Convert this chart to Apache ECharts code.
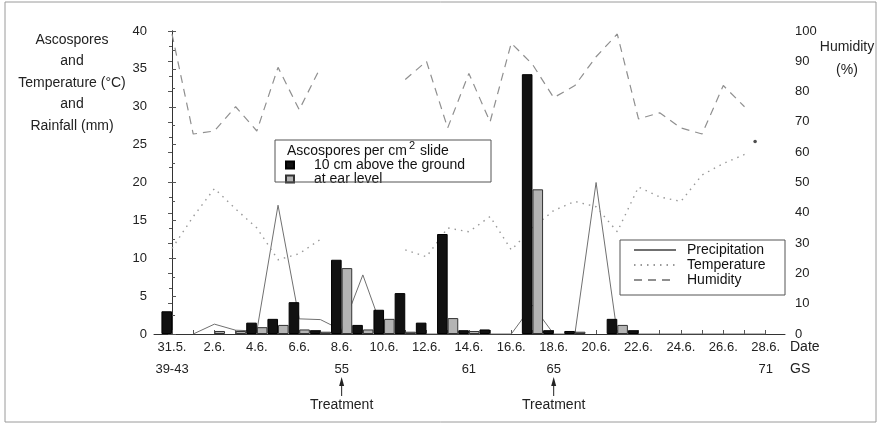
<!DOCTYPE html>
<html>
<head>
<meta charset="utf-8">
<script src="https://cdn.jsdelivr.net/npm/echarts@6/dist/echarts.min.js"></script>
<style>
  html, body { margin: 0; padding: 0; background: #fff; }
  #chart { width: 880px; height: 426px; }
</style>
</head>
<body>
<div id="chart"></div>
<script>
// one entry per day, 31.5. .. 28.6.
const dates = ["31.5.", "1.6.", "2.6.", "3.6.", "4.6.", "5.6.", "6.6.", "7.6.", "8.6.", "9.6.",
  "10.6.", "11.6.", "12.6.", "13.6.", "14.6.", "15.6.", "16.6.", "17.6.", "18.6.", "19.6.",
  "20.6.", "21.6.", "22.6.", "23.6.", "24.6.", "25.6.", "26.6.", "27.6.", "28.6."];
const labelDays = [0, 2, 4, 6, 8, 10, 12, 14, 16, 18, 20, 22, 24, 26, 28];
const gsDays = [0, 8, 14, 18, 28];
const gsLabels = ["39-43", "55", "61", "65", "71"];
const treatmentDays = [8, 18];

const aboveGround = [3.0, 0, 0, 0, 1.5, 2.0, 4.2, 0.5, 9.8, 1.2, 3.2, 5.4, 1.5, 13.2, 0.5, 0.6, 0, 34.3, 0.5, 0.4,
  0, 2.0, 0.5, 0, 0, 0, 0, 0, 0];
const earLevel = [0, 0, 0.4, 0.4, 0.9, 1.2, 0.6, 0.3, 8.7, 0.6, 2.0, 0.3, 0, 2.1, 0.4, 0, 0, 19.1, 0, 0.3,
  0, 1.2, 0, 0, 0, 0, 0, 0, 0];
const precipitation = [null, 0, 1.3, 0.5, 0.4, 17, 2.0, 1.9, 0.5, 7.8, 0, 0, 0, 0, 0, 0, 0, 3.8, 0, 0,
  20, 0, 0, 0, 0, 0, 0, 0, 0];
const temperature = [11.3, 15.5, 19.2, 16.5, 14, 9.8, 10.6, 12.5, null, null, null, 11.1, 10.2, 14, 13.5, 15.5,
  11.1, 14, 16.3, 17.5, 16.8, 13.5, 19.4, 18.1, 17.5, 21, 22.5, 23.7, null];
const humidity = [99, 66, 67, 75, 67, 88, 74, 88, null, null, null, 84, 90, 68, 86, 70, 96, 89, 78, 82,
  91.5, 99, 71, 73, 68, 66, 82, 75, null];
const tempDot = [[27.5, 25.4]];

const font = "Liberation Sans, Arial, sans-serif";
const xMin = -0.85;
const xMax = 28.91;

let chartDom = document.getElementById("chart");
let myChart = echarts.init(chartDom);

const toPairs = (arr) => arr.map((v, i) => [i, v === null ? "-" : v]);
const toBars = (arr) => arr.map((v, i) => [i, v > 0 ? v : "-"]);

let option = {
  animation: false,
  textStyle: { fontFamily: font },
  grid: { left: 154, right: 95, top: 31, bottom: 92 },
  legend: [
    {
      data: ["10 cm above the ground", "at ear level"],
      orient: "vertical",
      left: 285,
      top: 158,
      padding: 0,
      itemWidth: 8,
      itemHeight: 7,
      itemGap: 0,
      icon: "rect",
      textStyle: { fontSize: 14, lineHeight: 13, color: "#111", padding: [0, 0, 0, 15] },
    },
    {
      data: ["Precipitation", "Temperature", "Humidity"],
      orient: "vertical",
      left: 633,
      top: 243,
      padding: 0,
      itemWidth: 42,
      itemHeight: 10,
      itemGap: 1,
      itemStyle: { opacity: 0 },
      textStyle: { fontSize: 14, lineHeight: 14, color: "#111", padding: [0, 0, 0, 6] },
    },
  ],
  xAxis: [
    {
      type: "value",
      min: xMin,
      max: xMax,
      splitLine: { show: false },
      axisLine: { lineStyle: { color: "#333" } },
      axisTick: {
        inside: true,
        length: 4,
        customValues: dates.map((_, i) => i),
        lineStyle: { color: "#555" },
      },
      axisLabel: {
        customValues: labelDays,
        formatter: (v) => dates[Math.round(v)],
        fontSize: 13,
        color: "#222",
        margin: 7,
      },
    },
    {
      type: "value",
      min: xMin,
      max: xMax,
      position: "bottom",
      offset: 22,
      splitLine: { show: false },
      axisLine: { show: false },
      axisTick: { show: false },
      axisLabel: {
        customValues: gsDays,
        formatter: (v) => gsLabels[gsDays.indexOf(Math.round(v))],
        fontSize: 13,
        color: "#222",
        margin: 7,
      },
    },
  ],
  yAxis: [
    {
      type: "value",
      min: 0,
      max: 40,
      interval: 5,
      position: "left",
      splitLine: { show: false },
      axisLine: { show: true, lineStyle: { color: "#333" } },
      axisTick: { show: true, inside: true, length: 4, lineStyle: { color: "#555" } },
      minorTick: { show: true, splitNumber: 2, length: 3, lineStyle: { color: "#555" } },
      axisLabel: { fontSize: 13, color: "#222", margin: 7 },
    },
    {
      type: "value",
      min: 0,
      max: 100,
      interval: 10,
      position: "right",
      splitLine: { show: false },
      axisLine: { show: true, lineStyle: { color: "#333" } },
      axisTick: { show: true, inside: true, length: 4, lineStyle: { color: "#555" } },
      minorTick: { show: true, splitNumber: 2, length: 3, lineStyle: { color: "#555" } },
      axisLabel: { fontSize: 13, color: "#222", margin: 10 },
    },
  ],
  series: [
    {
      name: "10 cm above the ground",
      type: "bar",
      data: toBars(aboveGround),
      barWidth: 10.6,
      barGap: "0%",
      z: 4,
      itemStyle: { color: "#111", borderColor: "#000", borderWidth: 1 },
    },
    {
      name: "at ear level",
      type: "bar",
      data: toBars(earLevel),
      barWidth: 10.6,
      barGap: "0%",
      z: 4,
      itemStyle: { color: "#b4b4b4", borderColor: "#333", borderWidth: 1 },
    },
    {
      name: "Precipitation",
      type: "line",
      data: toPairs(precipitation),
      symbol: "none",
      z: 2,
      lineStyle: { color: "#707070", width: 1 },
      itemStyle: { color: "#707070" },
    },
    {
      name: "Temperature",
      type: "line",
      data: toPairs(temperature),
      symbol: "none",
      z: 2,
      lineStyle: { color: "#999", width: 1.4, type: [1.5, 5] },
      itemStyle: { color: "#999" },
    },
    {
      name: "Humidity",
      type: "line",
      yAxisIndex: 1,
      data: toPairs(humidity),
      symbol: "none",
      z: 2,
      lineStyle: { color: "#8f8f8f", width: 1.2, type: [8, 6] },
      itemStyle: { color: "#8f8f8f" },
    },
    {
      name: "tempDot",
      type: "scatter",
      data: tempDot,
      symbolSize: 3.5,
      z: 3,
      itemStyle: { color: "#222" },
    },
  ],
};

myChart.setOption(option);

// graphics: frame, legend boxes, axis titles, treatment arrows
let graphics = [
  { type: "rect", shape: { x: 5, y: 2, width: 871, height: 420 }, style: { fill: null, stroke: "#9a9a9a", lineWidth: 1 }, z: 0 },
  { type: "rect", shape: { x: 275, y: 140, width: 216, height: 42 }, style: { fill: null, stroke: "#555", lineWidth: 1 }, z: 10 },
  { type: "rect", shape: { x: 620, y: 240, width: 165, height: 55 }, style: { fill: null, stroke: "#555", lineWidth: 1 }, z: 10 },
  { type: "text", style: { text: "Ascospores per cm", x: 287, y: 151, verticalAlign: "middle", font: "14px " + font, fill: "#111" }, z: 10 },
  { type: "text", style: { text: "2", x: 409, y: 146, verticalAlign: "middle", font: "11px " + font, fill: "#111" }, z: 10 },
  { type: "text", style: { text: "slide", x: 420, y: 151, verticalAlign: "middle", font: "14px " + font, fill: "#111" }, z: 10 },
  {
    type: "text",
    style: {
      text: "Ascospores\nand\nTemperature (°C)\nand\nRainfall (mm)",
      x: 72, y: 29, align: "center", verticalAlign: "top", lineHeight: 21.5,
      font: "14px " + font, fill: "#222",
    },
  },
  {
    type: "text",
    style: { text: "Humidity\n(%)", x: 847, y: 36, align: "center", verticalAlign: "top", lineHeight: 23, font: "14px " + font, fill: "#222" },
  },
  { type: "text", style: { text: "Date", x: 790, y: 347, verticalAlign: "middle", font: "14px " + font, fill: "#222" } },
  { type: "text", style: { text: "GS", x: 790, y: 369, verticalAlign: "middle", font: "14px " + font, fill: "#222" } },
];

treatmentDays.forEach((day) => {
  let x = myChart.convertToPixel({ xAxisIndex: 0 }, day);
  graphics.push(
    { type: "line", shape: { x1: x, y1: 396, x2: x, y2: 384 }, style: { stroke: "#222", lineWidth: 1 } },
    { type: "polygon", shape: { points: [[x, 377], [x - 2.5, 386], [x + 2.5, 386]] }, style: { fill: "#222" } },
    { type: "text", style: { text: "Treatment", x: x, y: 405, align: "center", verticalAlign: "middle", font: "14px " + font, fill: "#222" } }
  );
});

myChart.setOption({ graphic: graphics });
</script>
</body>
</html>
